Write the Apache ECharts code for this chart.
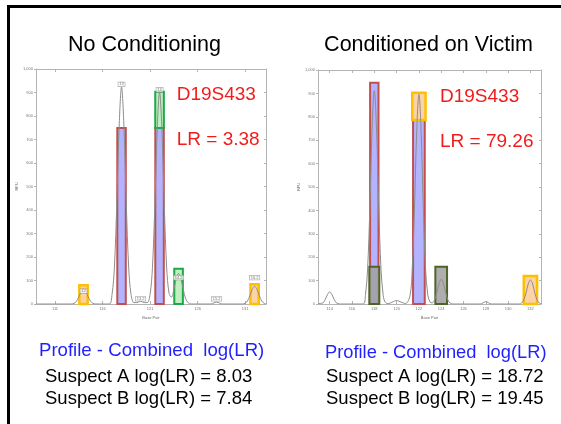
<!DOCTYPE html>
<html>
<head>
<meta charset="utf-8">
<script src="https://cdn.jsdelivr.net/npm/echarts@6/dist/echarts.min.js"></script>
<style>
  html, body { margin: 0; padding: 0; background: #fff; overflow: hidden; }
  #chart { width: 561px; height: 424px; }
</style>
</head>
<body>
<div id="chart"></div>
<script>
// electropherogram trace: [base pair, RFU]
const leftTrace = [
  [109, 0], [112.7, 0], [113, 3], [113.25, 11], [113.5, 30], [113.75, 53], [114, 65], [114.25, 53],
  [114.5, 30], [114.75, 11], [115, 3], [115.3, 0], [116.7, 0], [117, 41], [117.25, 157], [117.5, 425],
  [117.75, 757], [118, 923], [118.25, 757], [118.5, 425], [118.75, 157], [119, 41], [119.3, 6],
  [119.6, 6], [120, 12], [120.4, 6], [120.7, 6], [121, 40], [121.25, 154], [121.5, 415], [121.75, 740],
  [122, 903], [122.25, 740], [122.5, 415], [122.75, 154], [123, 46], [123.25, 29], [123.5, 60],
  [123.75, 107], [124, 130], [124.25, 107], [124.5, 60], [124.75, 22], [125, 6], [125.3, 0],
  [127.4, 0], [128, 8], [128.6, 0], [130.7, 0], [131, 3], [131.25, 13], [131.5, 35], [131.75, 62],
  [132, 75], [132.25, 62], [132.5, 35], [132.75, 13], [133, 3], [133.2, 1]
]
const rightTrace = [
  [113, 2], [113.4, 5], [113.6, 20], [113.8, 40], [114, 52], [114.2, 40], [114.4, 20], [114.6, 5],
  [114.9, 0], [117, 0], [117.2, 36], [117.4, 150], [117.6, 410], [117.8, 748], [118, 912], [118.2, 748],
  [118.4, 410], [118.6, 150], [118.8, 36], [119, 6], [119.3, 2], [119.6, 8], [120, 15], [120.4, 8],
  [120.8, 2], [121.2, 36], [121.4, 148], [121.6, 403], [121.8, 735], [122, 896], [122.2, 735],
  [122.4, 403], [122.6, 148], [122.8, 38], [123, 8], [123.2, 5], [123.4, 17], [123.6, 48], [123.8, 87],
  [124, 106], [124.2, 87], [124.4, 48], [124.6, 17], [124.8, 4], [125.1, 0], [127.5, 0], [128, 10],
  [128.5, 0], [131, 0], [131.2, 4], [131.4, 17], [131.6, 46], [131.8, 85], [132, 103], [132.2, 85],
  [132.4, 46], [132.6, 17], [132.8, 4], [133, 1]
]

// boxes: [base pair, low RFU, high RFU]
const leftExpected = [[118, 0, 749], [122, 0, 749]]
const leftGreen = [[122, 749, 903], [124, 0, 150]]
const leftOrange = [[114, 0, 80], [132, 0, 84]]
const rightExpected = [[118, 0, 946], [122, 0, 786]]
const rightOrange = [[122, 786, 903], [132, 0, 120]]
const rightOlive = [[118, 0, 159], [124, 0, 159]]

// allele call labels: [base pair, RFU, text]
const leftCalls = [
  [114, 55, '12'], [118, 935, '13'], [120, 22, '13.2'], [122, 912, '14'],
  [124, 112, '14.2'], [128, 22, '15.2'], [132, 112, '16.2']
]

const leftTicks = [111, 116, 121, 126, 131]
const rightTicks = [114, 116, 118, 120, 122, 124, 126, 128, 130, 132]

const FONT = 'Liberation Sans, Arial, sans-serif'
const AXIS_GREY = '#b4b4b4'

const chart = echarts.init(document.getElementById('chart'))

function xAxisDef(grid, min, max, ticks, pos) {
  const bottom = pos === 'bottom'
  return {
    type: 'value', gridIndex: grid, position: pos, min: min, max: max,
    name: bottom ? 'Base Pair' : '', nameLocation: 'middle', nameGap: 11,
    nameTextStyle: { fontSize: 4, color: '#666', fontFamily: FONT },
    axisLine: { show: true, onZero: false, lineStyle: { color: AXIS_GREY, width: 1 } },
    axisTick: { show: true, inside: true, length: 3, customValues: ticks, lineStyle: { color: AXIS_GREY } },
    axisLabel: { show: bottom, customValues: ticks, fontSize: 4, color: '#777', margin: 3, fontFamily: FONT },
    splitLine: { show: false }
  }
}

function yAxisDef(grid, pos) {
  const left = pos === 'left'
  return {
    type: 'value', gridIndex: grid, position: pos, min: 0, max: 1000, interval: 100,
    name: left ? 'RFU' : '', nameLocation: 'middle', nameGap: 14, nameRotate: 90,
    nameTextStyle: { fontSize: 4, color: '#666', fontFamily: FONT },
    axisLine: { show: true, lineStyle: { color: AXIS_GREY, width: 1 } },
    axisTick: { show: true, inside: !left, length: 2, lineStyle: { color: AXIS_GREY } },
    axisLabel: { show: left, fontSize: 4, color: '#777', margin: 3, fontFamily: FONT },
    splitLine: { show: false }
  }
}

function traceSeries(data, idx) {
  return {
    type: 'line', xAxisIndex: idx, yAxisIndex: idx, data: data,
    smooth: 0.35, showSymbol: false, z: 4, silent: true,
    lineStyle: { color: '#8c8c8c', width: 1 }
  }
}

function boxSeries(data, idx, fill, stroke, lineWidth, widths) {
  return {
    type: 'custom', xAxisIndex: idx, yAxisIndex: idx, data: data, z: 3,
    renderItem: function (params, api) {
      const x = api.value(0)
      const lo = api.coord([x, api.value(1)])
      const hi = api.coord([x, api.value(2)])
      const w = Array.isArray(widths) ? widths[params.dataIndex] : widths
      return {
        type: 'rect',
        shape: { x: lo[0] - w / 2, y: hi[1], width: w, height: lo[1] - hi[1] },
        style: { fill: fill, stroke: stroke, lineWidth: lineWidth }
      }
    }
  }
}

function txt(x, y, text, size, color, align) {
  return {
    type: 'text', x: x, y: y, z: 10,
    style: {
      text: text, fontSize: size, fill: color, fontFamily: FONT,
      align: align || 'left', verticalAlign: 'middle'
    }
  }
}

const option = {
  backgroundColor: '#fff',
  animation: false,
  grid: [
    { left: 36, top: 69, width: 230, height: 235 },
    { left: 318, top: 70, width: 223, height: 234 }
  ],
  xAxis: [
    xAxisDef(0, 109, 133.2, leftTicks, 'bottom'),
    xAxisDef(1, 112.95, 132.95, rightTicks, 'bottom'),
    xAxisDef(0, 109, 133.2, leftTicks, 'top'),
    xAxisDef(1, 112.95, 132.95, rightTicks, 'top')
  ],
  yAxis: [
    yAxisDef(0, 'left'),
    yAxisDef(1, 'left'),
    yAxisDef(0, 'right'),
    yAxisDef(1, 'right')
  ],
  series: [
    traceSeries(leftTrace, 0),
    traceSeries(rightTrace, 1),
    boxSeries(leftExpected, 0, 'rgba(160,160,255,0.8)', '#c0504d', 2, 8.5),
    boxSeries(leftGreen, 0, 'rgba(170,235,170,0.75)', '#1ea84a', 2, 8.6),
    boxSeries(leftOrange, 0, 'rgba(252,205,160,0.9)', '#ffc000', 2.5, 8.3),
    boxSeries(rightExpected, 1, 'rgba(160,160,255,0.8)', '#c0504d', 2, [8.4, 11.7]),
    boxSeries(rightOrange, 1, 'rgba(252,205,160,0.9)', '#ffc000', 2.5, 13.3),
    boxSeries(rightOlive, 1, 'rgba(160,160,160,0.85)', '#4f6228', 2, [10, 11.7]),
    {
      type: 'scatter', xAxisIndex: 0, yAxisIndex: 0, z: 5, symbolSize: 0,
      data: leftCalls,
      label: {
        show: true, position: 'inside', fontSize: 4, color: '#555', fontFamily: FONT,
        backgroundColor: '#fff', borderColor: '#999', borderWidth: 0.6, padding: [0, 1],
        formatter: function (p) { return p.value[2] }
      }
    }
  ],
  graphic: [
    // page frame: only the top and left edges show in the reference
    { type: 'rect', shape: { x: 7, y: 5, width: 554, height: 3 }, style: { fill: '#000' }, z: 20 },
    { type: 'rect', shape: { x: 7, y: 5, width: 3, height: 419 }, style: { fill: '#000' }, z: 20 },
    txt(144.5, 45, 'No Conditioning', 21.5, '#000', 'center'),
    txt(428.5, 45, 'Conditioned on Victim', 21.5, '#000', 'center'),
    txt(176.7, 95, 'D19S433', 19, '#f21b1b'),
    txt(176.7, 140, 'LR = 3.38', 19, '#f21b1b'),
    txt(440, 96.7, 'D19S433', 19, '#f21b1b'),
    txt(440, 141.7, 'LR = 79.26', 19, '#f21b1b'),
    txt(39, 351, 'Profile - Combined  log(LR)', 18.6, '#1f1fff'),
    txt(45, 377, 'Suspect A log(LR) = 8.03', 18.5, '#000'),
    txt(45, 398.5, 'Suspect B log(LR) = 7.84', 18.5, '#000'),
    txt(325, 352.5, 'Profile - Combined  log(LR)', 18.3, '#1f1fff'),
    txt(326, 377, 'Suspect A log(LR) = 18.72', 18.5, '#000'),
    txt(326, 398.5, 'Suspect B log(LR) = 19.45', 18.5, '#000')
  ]
}

chart.setOption(option)
window.addEventListener('resize', function () { chart.resize() })
</script>
</body>
</html>
